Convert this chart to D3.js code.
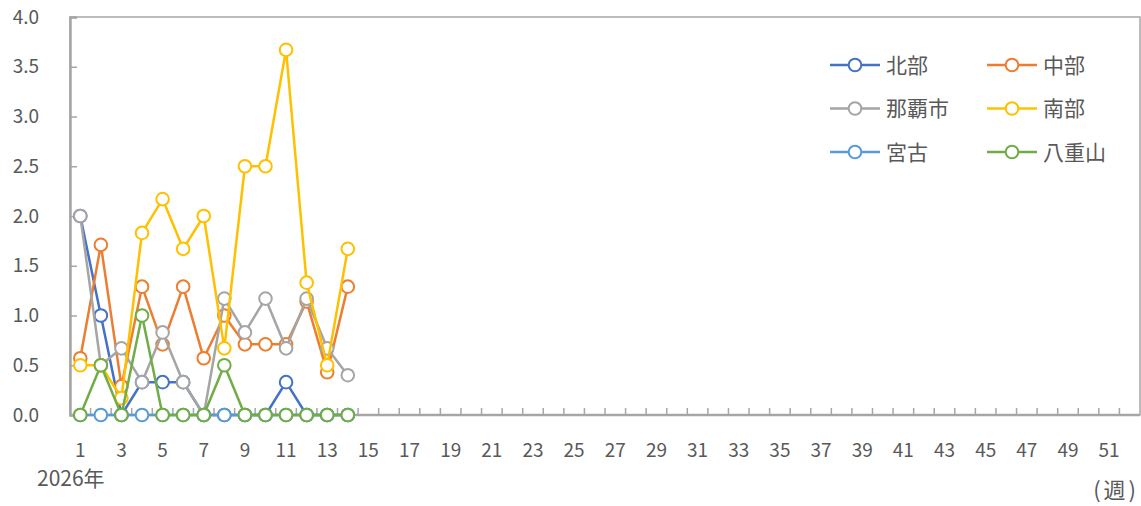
<!DOCTYPE html>
<html>
<head>
<meta charset="utf-8">
<script src="https://cdn.jsdelivr.net/npm/d3@7"></script>
<style>
body { margin: 0; background: #fff; }
text { font-family: "Noto Sans CJK JP", "Noto Sans", sans-serif; fill: #595959; }
</style>
</head>
<body>
<div id="chart"></div>
<script>
var w = 1141;
var h = 506;

var weeks = d3.range(1, 53);
var seriesNames = ["北部", "中部", "那覇市", "南部", "宮古", "八重山"];
var colors = ["#4472C4", "#ED7D31", "#A5A5A5", "#FFC000", "#5B9BD5", "#70AD47"];

var hokubu  = [2.0, 1.0, 0, 0.33, 0.33, 0.33, 0, 0, 0, 0, 0.33, 0, 0, 0];
var chubu   = [0.57, 1.71, 0.29, 1.29, 0.71, 1.29, 0.57, 1.0, 0.71, 0.71, 0.71, 1.14, 0.43, 1.29];
var naha    = [2.0, 0.5, 0.67, 0.33, 0.83, 0.33, 0, 1.17, 0.83, 1.17, 0.67, 1.17, 0.67, 0.4];
var nanbu   = [0.5, 0.5, 0.17, 1.83, 2.17, 1.67, 2.0, 0.67, 2.5, 2.5, 3.67, 1.33, 0.5, 1.67];
var miyako  = [0, 0, 0, 0, 0, 0, 0, 0, 0, 0, 0, 0, 0, 0];
var yaeyama = [0, 0.5, 0, 1.0, 0, 0, 0, 0.5, 0, 0, 0, 0, 0, 0];

var yTicks = [0, 0.5, 1.0, 1.5, 2.0, 2.5, 3.0, 3.5, 4.0];
var xLabels = weeks.filter(function(d) { return d % 2 === 1; });

var allSeries = [hokubu, chubu, naha, nanbu, miyako, yaeyama];

var pLeft = 70, pRight = 1140, pTop = 17, pBottom = 415;

var svg = d3.select("#chart").append("svg")
	.attr("width", w)
	.attr("height", h);

var xScale = d3.scaleBand()
	.domain(weeks)
	.range([pLeft, pRight]);

var yScale = d3.scaleLinear()
	.domain([0, 4])
	.range([pBottom, pTop]);

// frame
svg.append("rect")
	.attr("x", pLeft).attr("y", pTop)
	.attr("width", pRight - pLeft).attr("height", pBottom - pTop)
	.attr("fill", "none")
	.attr("stroke", "#A6A6A6")
	.attr("stroke-width", 1.5);

// y axis
var yAxis = d3.axisLeft(yScale)
	.tickValues(yTicks)
	.tickSize(-7)
	.tickPadding(31)
	.tickFormat(d3.format(".1f"));

var gy = svg.append("g")
	.attr("transform", "translate(" + pLeft + ",0)")
	.call(yAxis);
gy.select(".domain").attr("stroke", "#A6A6A6").attr("stroke-width", 2.5);
gy.selectAll(".tick line").attr("stroke", "#A6A6A6").attr("stroke-width", 1.5);
gy.selectAll(".tick text").attr("font-size", 19).attr("font-family", null).style("fill", "#595959");

// x axis: ticks at band boundaries
var gx = svg.append("g")
	.attr("transform", "translate(0," + pBottom + ")");
gx.append("line")
	.attr("x1", pLeft).attr("x2", pRight)
	.attr("stroke", "#A6A6A6").attr("stroke-width", 2.5);
gx.selectAll("line.tk")
	.data(weeks.slice(1))
	.enter()
	.append("line")
	.attr("class", "tk")
	.attr("x1", function(d) { return xScale(d); })
	.attr("x2", function(d) { return xScale(d); })
	.attr("y1", 0).attr("y2", -7)
	.attr("stroke", "#A6A6A6").attr("stroke-width", 1.5);
gx.selectAll("text")
	.data(xLabels)
	.enter()
	.append("text")
	.attr("x", function(d) { return xScale(d) + xScale.bandwidth() / 2; })
	.attr("y", 42)
	.attr("text-anchor", "middle")
	.attr("font-size", 19)
	.text(function(d) { return d; });

svg.append("text")
	.attr("x", 37).attr("y", 486)
	.attr("font-size", 21)
	.text("2026年");

svg.append("text")
	.attr("x", 1139).attr("y", 498)
	.attr("text-anchor", "end")
	.attr("font-size", 22)
	.attr("letter-spacing", 3)
	.text("(週)");

// lines
var line = d3.line()
	.x(function(d, i) { return xScale(weeks[i]) + xScale.bandwidth() / 2; })
	.y(function(d) { return yScale(d); });

allSeries.forEach(function(s, k) {
	var g = svg.append("g");
	g.append("path")
		.datum(s)
		.attr("d", line)
		.attr("fill", "none")
		.attr("stroke", colors[k])
		.attr("stroke-width", 2.5)
		.attr("stroke-linejoin", "round");
	g.selectAll("circle")
		.data(s)
		.enter()
		.append("circle")
		.attr("cx", function(d, i) { return xScale(weeks[i]) + xScale.bandwidth() / 2; })
		.attr("cy", function(d) { return yScale(d); })
		.attr("r", 6.3)
		.attr("fill", "#fff")
		.attr("stroke", colors[k])
		.attr("stroke-width", 2);
});

// legend
var legend = svg.append("g");
seriesNames.forEach(function(name, k) {
	var col = k % 2, row = Math.floor(k / 2);
	var lx = 830 + col * 157;
	var ly = 65 + row * 43.5;
	legend.append("line")
		.attr("x1", lx).attr("x2", lx + 50)
		.attr("y1", ly).attr("y2", ly)
		.attr("stroke", colors[k]).attr("stroke-width", 2.5);
	legend.append("circle")
		.attr("cx", lx + 25).attr("cy", ly).attr("r", 6.3)
		.attr("fill", "#fff")
		.attr("stroke", colors[k]).attr("stroke-width", 2);
	legend.append("text")
		.attr("x", lx + 56).attr("y", ly + 7.5)
		.attr("font-size", 21)
		.text(name);
});
</script>
</body>
</html>
